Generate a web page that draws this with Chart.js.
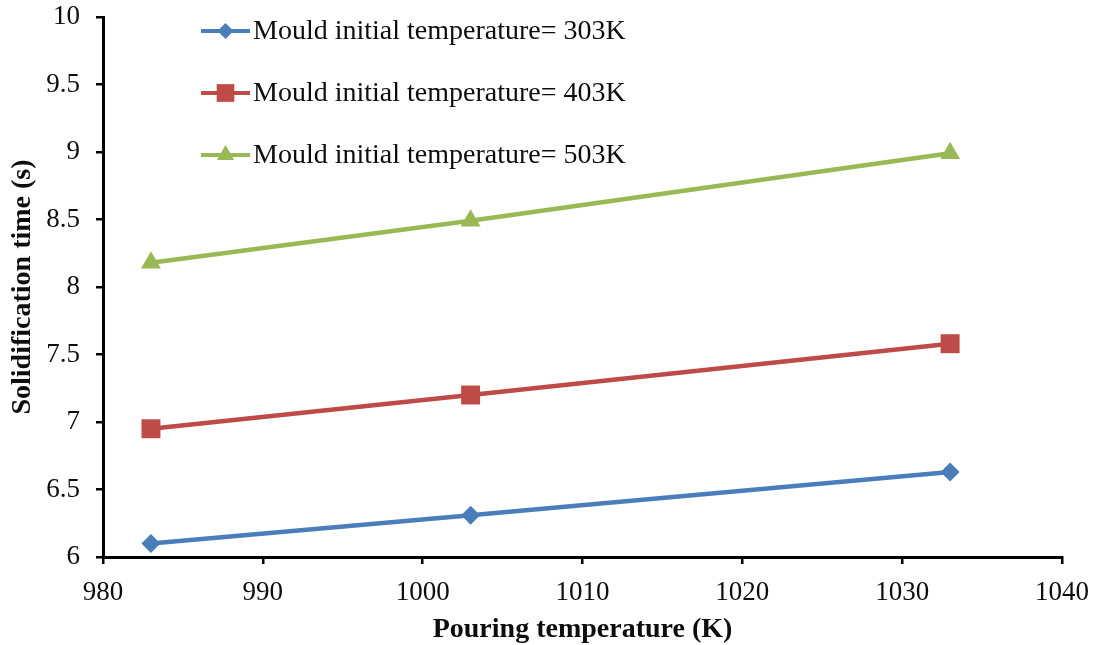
<!DOCTYPE html>
<html>
<head>
<meta charset="utf-8">
<script src="https://cdn.jsdelivr.net/npm/chart.js@4.4.1/dist/chart.umd.min.js"></script>
<style>
  html, body { margin: 0; padding: 0; background: #ffffff; }
  #wrap { width: 1096px; height: 645px; position: relative; }
</style>
</head>
<body>
<div id="wrap"><canvas id="c"></canvas></div>
<script>
const pouringTemps = [983, 1003, 1033];
const series303 = [6.10, 6.31, 6.63];
const series403 = [6.95, 7.20, 7.58];
const series503 = [8.18, 8.49, 8.99];
const seriesLabels = [
  'Mould initial temperature= 303K',
  'Mould initial temperature= 403K',
  'Mould initial temperature= 503K'
];
const xTitle = 'Pouring temperature (K)';
const yTitle = 'Solidification time (s)';

const FONT = '"Liberation Serif", "Times New Roman", serif';

function toXY(xs, ys) { return xs.map((x, i) => ({ x: x, y: ys[i] })); }

function drawMarker(ctx, style, x, y, r, color) {
  ctx.save();
  ctx.fillStyle = color;
  ctx.beginPath();
  if (style === 'rectRot') {
    ctx.moveTo(x, y - r); ctx.lineTo(x + r, y); ctx.lineTo(x, y + r); ctx.lineTo(x - r, y);
  } else if (style === 'rect') {
    const s = r * Math.SQRT1_2;
    ctx.rect(x - s, y - s, 2 * s, 2 * s);
  } else if (style === 'triangle') {
    const w = r * Math.sqrt(3) / 2;
    ctx.moveTo(x, y - r); ctx.lineTo(x + w, y + r / 2); ctx.lineTo(x - w, y + r / 2);
  }
  ctx.closePath();
  ctx.fill();
  ctx.restore();
}

const customLegend = {
  id: 'customLegend',
  afterDraw(chart) {
    const ctx = chart.ctx;
    const rows = [31, 93, 155];
    const legendRadius = { rectRot: 8, rect: 12.5, triangle: 10 };
    chart.data.datasets.forEach((ds, i) => {
      const y = rows[i];
      ctx.save();
      ctx.strokeStyle = ds.borderColor;
      ctx.lineWidth = 4;
      ctx.beginPath();
      ctx.moveTo(201, y); ctx.lineTo(250, y);
      ctx.stroke();
      drawMarker(ctx, ds.pointStyle, 225.5, y, legendRadius[ds.pointStyle], ds.pointBackgroundColor);
      ctx.fillStyle = '#0d0d0d';
      ctx.font = '28px ' + FONT;
      ctx.textBaseline = 'middle';
      ctx.textAlign = 'left';
      ctx.fillText(ds.label, 253, y + 1);
      ctx.restore();
    });
  }
};

const tickFont = { family: FONT, size: 27 };

new Chart(document.getElementById('c'), {
  type: 'line',
  data: {
    datasets: [
      {
        label: seriesLabels[0],
        data: toXY(pouringTemps, series303),
        borderColor: '#4A7EBB',
        backgroundColor: '#4A7EBB',
        pointBackgroundColor: '#4A7EBB',
        pointBorderWidth: 0,
        pointStyle: 'rectRot',
        pointRadius: 9.5,
        borderWidth: 4.5,
        tension: 0
      },
      {
        label: seriesLabels[1],
        data: toXY(pouringTemps, series403),
        borderColor: '#BE4B48',
        backgroundColor: '#BE4B48',
        pointBackgroundColor: '#BE4B48',
        pointBorderWidth: 0,
        pointStyle: 'rect',
        pointRadius: 13.4,
        borderWidth: 4.5,
        tension: 0
      },
      {
        label: seriesLabels[2],
        data: toXY(pouringTemps, series503),
        borderColor: '#98B954',
        backgroundColor: '#98B954',
        pointBackgroundColor: '#98B954',
        pointBorderWidth: 0,
        pointStyle: 'triangle',
        pointRadius: 11.5,
        borderWidth: 4.5,
        tension: 0
      }
    ]
  },
  options: {
    responsive: true,
    maintainAspectRatio: false,
    animation: false,
    layout: { padding: { left: 0, right: 34, top: 17, bottom: 0 } },
    plugins: {
      legend: { display: false },
      tooltip: { enabled: false }
    },
    scales: {
      x: {
        type: 'linear',
        min: 980, max: 1040,
        ticks: { stepSize: 10, color: '#0d0d0d', font: tickFont, padding: 13, maxRotation: 0,
                 callback: (v) => String(v) },
        grid: { drawOnChartArea: false, drawTicks: true, tickLength: 7, color: '#000000', lineWidth: 2.5 },
        border: { display: true, color: '#000000', width: 3 },
        title: {
          display: true, text: xTitle, color: '#0d0d0d',
          font: { family: FONT, size: 28, weight: 'bold', lineHeight: 1.1 },
          padding: { top: 0, bottom: 0 }
        },
        afterFit(scale) {
          scale.height = 88;
          scale.paddingLeft = 0; scale.paddingRight = 0;
        }
      },
      y: {
        type: 'linear',
        min: 6, max: 10,
        ticks: { stepSize: 0.5, color: '#0d0d0d', font: tickFont, padding: 16,
                 callback: (v) => String(v) },
        grid: { drawOnChartArea: false, drawTicks: true, tickLength: 7, color: '#000000', lineWidth: 2.5 },
        border: { display: true, color: '#000000', width: 3 },
        title: {
          display: true, text: yTitle, color: '#0d0d0d',
          font: { family: FONT, size: 28, weight: 'bold', lineHeight: 1.1 },
          padding: { top: 7, bottom: 0 }
        },
        afterFit(scale) {
          scale.width = 103;
          scale.paddingTop = 0; scale.paddingBottom = 0;
        }
      }
    }
  },
  plugins: [customLegend]
});
</script>
</body>
</html>
